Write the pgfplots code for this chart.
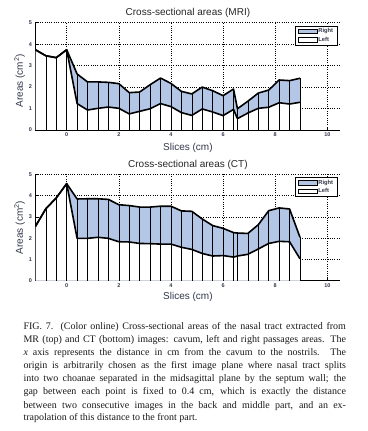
\documentclass[border=0pt]{standalone}
\usepackage{pgfplots}
\pgfplotsset{compat=1.18}
\usepackage{pgfplotstable}
\usepackage{fontspec}
\setmainfont{Liberation Sans}
\newfontfamily\capfont{Liberation Serif}
\definecolor{areablue}{HTML}{B3C6E6}
\definecolor{labcol}{HTML}{33384A}

\pgfplotstableread{
x left top
-1.2 3.74 3.74
-0.8 3.46 3.46
-0.4 3.37 3.37
0 3.74 3.74
0.4 1.23 2.61
0.8 0.93 2.24
1.2 1.01 2.24
1.6 1.07 2.22
2.0 1.01 2.16
2.4 0.75 1.74
2.8 0.87 1.77
3.2 0.99 2.11
3.6 1.23 2.42
4.0 1.09 2.17
4.4 0.81 1.80
4.8 0.68 1.68
5.2 0.98 2.00
5.6 0.84 1.83
6.0 0.67 1.60
6.4 0.96 1.91
6.55 0.53 0.99
6.95 0.79 1.34
7.35 1.01 1.72
7.75 1.06 1.86
8.15 1.27 2.33
8.55 1.21 2.30
8.95 1.29 2.41
}\mri

\pgfplotstableread{
x left top
-1.2 2.55 2.55
-0.8 3.38 3.38
-0.4 3.89 3.89
0 4.56 4.56
0.4 1.99 3.84
0.8 1.99 3.85
1.2 2.04 3.85
1.6 1.99 3.82
2.0 1.83 3.57
2.4 1.82 3.53
2.8 1.75 3.46
3.2 1.74 3.46
3.6 1.72 3.50
4.0 1.72 3.50
4.4 1.57 3.28
4.8 1.47 3.26
5.2 1.28 2.90
5.6 1.16 2.59
6.0 1.18 2.46
6.4 1.11 2.26
6.55 1.16 2.24
6.95 1.24 2.22
7.35 1.49 2.63
7.75 1.75 3.29
8.15 1.85 3.42
8.55 1.83 3.37
8.95 1.03 2.04
}\ct

\pgfplotsset{
  areastyle/.style={
    scale only axis, width=305pt,
    xmin=-1.2, xmax=10.5, ymin=0, ymax=5,
    xtick={0,2,...,10}, ytick={0,1,...,5},
    axis x line*=bottom, axis y line*=left,
    axis line style={-, black, line width=0.8pt},
    tick align=inside, major tick length=2.5pt,
    tick style={black, line width=0.5pt},
    grid=major,
    major grid style={black, line width=0.55pt, dash pattern=on 0.9pt off 1.4pt},
    /pgf/number format/assume math mode=true,
    tick label style={font=\fontsize{5.5}{6}\selectfont\bfseries, text=labcol},
    xticklabel style={yshift=1pt},
    xlabel={Slices (cm)}, ylabel={Areas (cm\textsuperscript{2})},
    label style={font=\fontsize{10}{12}\selectfont, text=labcol},
    title style={font=\fontsize{10}{12}\selectfont, text=black!85, at={(rel axis cs:0.5,1)}, anchor=base, yshift=0.7pt},
    legend style={at={(rel axis cs:0.99,0.972)}, anchor=north east, draw=black, line width=0.8pt,
      font=\fontsize{5.8}{6}\selectfont\bfseries, text=labcol, inner xsep=3pt, inner ysep=1.5pt, row sep=1.2pt,
      nodes={inner sep=0.8pt}},
    legend cell align=left,
    legend image code/.code={\draw[#1, line width=0.6pt] (0pt,-2.3pt) rectangle (19pt,2.3pt);},
  }
}

\begin{document}
\begin{tikzpicture}
\useasboundingbox (0pt,0pt) rectangle (367pt,431pt);

\begin{axis}[areastyle, at={(35.4pt,301pt)}, anchor=south west, height=107.3pt,
  title={Cross-sectional areas (MRI)},
  xlabel style={at={(rel axis cs:0.5,0)}, anchor=base, yshift=-20.5pt},
  ylabel style={at={(rel axis cs:-0.052,0.46)}, anchor=center}]
\addplot[fill=areablue, draw=none, forget plot] table[x=x, y=top] {\mri} \closedcycle;
\addplot[fill=white, draw=none, forget plot] table[x=x, y=left] {\mri} \closedcycle;
\addplot[ycomb, black, line width=0.6pt, mark=none, forget plot] table[x=x, y=top] {\mri};
\addplot[black, line width=1.6pt, line join=round, mark=none, forget plot] table[x=x, y=left] {\mri};
\addplot[black, line width=1.6pt, line join=round, mark=none, forget plot] table[x=x, y=top] {\mri};
\addlegendimage{fill=areablue, draw=black}
\addlegendentry{Right}
\addlegendimage{fill=white, draw=black}
\addlegendentry{Left}
\end{axis}

\begin{axis}[areastyle, at={(35.4pt,150.3pt)}, anchor=south west, height=106.4pt,
  title={Cross-sectional areas (CT)},
  xlabel style={at={(rel axis cs:0.5,0)}, anchor=base, yshift=-18.8pt},
  ylabel style={at={(rel axis cs:-0.052,0.5)}, anchor=center}]
\addplot[fill=areablue, draw=none, forget plot] table[x=x, y=top] {\ct} \closedcycle;
\addplot[fill=white, draw=none, forget plot] table[x=x, y=left] {\ct} \closedcycle;
\addplot[ycomb, black, line width=0.6pt, mark=none, forget plot] table[x=x, y=top] {\ct};
\addplot[black, line width=1.6pt, line join=round, mark=none, forget plot] table[x=x, y=left] {\ct};
\addplot[black, line width=1.6pt, line join=round, mark=none, forget plot] table[x=x, y=top] {\ct};
\addlegendimage{fill=areablue, draw=black}
\addlegendentry{Right}
\addlegendimage{fill=white, draw=black}
\addlegendentry{Left}
\end{axis}

\begin{scope}[every node/.style={anchor=base west, inner sep=0pt, font=\capfont\fontsize{10}{12}\selectfont, text=black!90}]
\node at (23.3pt,101pt) {\makebox[322.5pt][s]{FIG. 7. (Color online) Cross-sectional areas of the nasal tract extracted from}};
\node at (23.3pt,88pt) {\makebox[322.5pt][s]{MR (top) and CT (bottom) images: cavum, left and right passages areas. The}};
\node at (23.3pt,75pt) {\makebox[322.5pt][s]{\textit{x} axis represents the distance in cm from the cavum to the nostrils. The}};
\node at (23.3pt,62pt) {\makebox[322.5pt][s]{origin is arbitrarily chosen as the first image plane where nasal tract splits}};
\node at (23.3pt,49pt) {\makebox[322.5pt][s]{into two choanae separated in the midsagittal plane by the septum wall; the}};
\node at (23.3pt,36pt) {\makebox[322.5pt][s]{gap between each point is fixed to 0.4 cm, which is exactly the distance}};
\node at (23.3pt,23pt) {\makebox[322.5pt][s]{between two consecutive images in the back and middle part, and an ex-}};
\node at (23.3pt,10pt) {trapolation of this distance to the front part.};
\end{scope}
\end{tikzpicture}
\end{document}
